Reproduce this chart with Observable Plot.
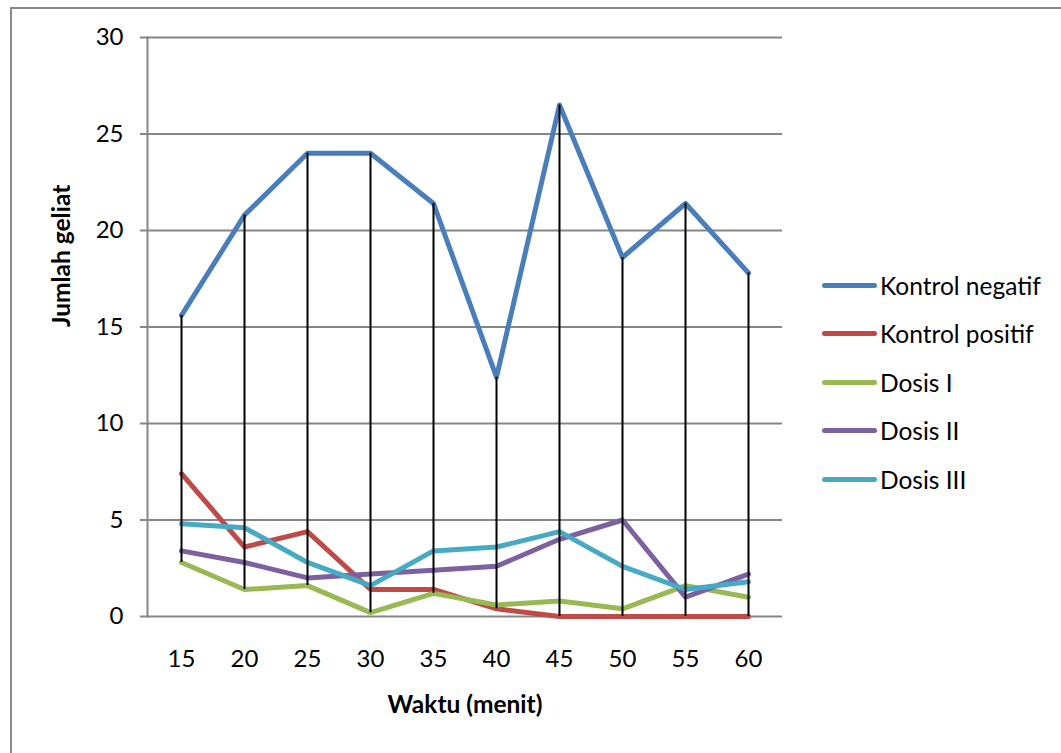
<!DOCTYPE html>
<html>
<head>
<meta charset="utf-8">
<script src="https://cdn.jsdelivr.net/npm/d3@7"></script>
<script src="https://cdn.jsdelivr.net/npm/@observablehq/plot@0.6"></script>
<style>
  html, body { margin: 0; padding: 0; background: #fff; overflow: hidden; }
  #wrap { position: relative; width: 1061px; height: 753px; }
  #frame { position: absolute; left: 10px; top: 7px; width: 1100px; height: 800px;
           border-left: 2px solid #8a8a8a; border-top: 2px solid #8a8a8a; }
  #chart { position: absolute; left: 0; top: 0; }
  #legend { position: absolute; left: 822px; top: 261px; font-family: Lato, "Open Sans", sans-serif;
            font-size: 24.5px; color: #000; }
  .item { display: flex; align-items: center; height: 48.5px; }
  .sw { width: 55px; height: 5px; border-radius: 3px; margin-right: 3px; }
</style>
</head>
<body>
<div id="wrap">
  <div id="frame"></div>
  <div id="chart"></div>
  <div id="legend"></div>
</div>
<script>
const times = [15, 20, 25, 30, 35, 40, 45, 50, 55, 60];
const seriesNames = ["Kontrol negatif", "Kontrol positif", "Dosis I", "Dosis II", "Dosis III"];
const seriesColors = ["#4a7ebb", "#be4b48", "#98b954", "#7d60a0", "#46aac5"];
const kontrolNegatif = [15.6, 20.8, 24.0, 24.0, 21.4, 12.4, 26.5, 18.6, 21.4, 17.8];
const kontrolPositif = [7.4, 3.6, 4.4, 1.4, 1.4, 0.4, 0, 0, 0, 0];
const dosisI = [2.8, 1.4, 1.6, 0.2, 1.2, 0.6, 0.8, 0.4, 1.6, 1.0];
const dosisII = [3.4, 2.8, 2.0, 2.2, 2.4, 2.6, 4.0, 5.0, 1.0, 2.2];
const dosisIII = [4.8, 4.6, 2.8, 1.6, 3.4, 3.6, 4.4, 2.6, 1.4, 1.8];
const yTicks = [0, 5, 10, 15, 20, 25, 30];

const allSeries = [kontrolNegatif, kontrolPositif, dosisI, dosisII, dosisIII];
const tidy = [];
allSeries.forEach((vals, si) => vals.forEach((v, i) => tidy.push({series: seriesNames[si], t: times[i], v})));
const hiLo = times.map((t, i) => {
  const vs = allSeries.map(s => s[i]);
  return {t, lo: Math.min(...vs), hi: Math.max(...vs)};
});

const W = 1061, H = 753;
const chart = Plot.plot({
  width: W, height: H,
  marginLeft: 147, marginRight: W - 782, marginTop: 37, marginBottom: H - 616,
  style: {fontFamily: "Lato, 'Open Sans', sans-serif", fontSize: "24px", color: "#000", background: "transparent"},
  x: {type: "point", domain: times, padding: 0.5},
  y: {domain: [0, 30]},
  color: {domain: seriesNames, range: seriesColors},
  marks: [
    Plot.gridY(yTicks, {stroke: "#868686", strokeOpacity: 1, strokeWidth: 2}),
    Plot.frame({anchor: "left", stroke: "#868686", strokeWidth: 2}),
    Plot.axisY(yTicks, {tickSize: 7, tickPadding: 17, stroke: "#868686", strokeWidth: 2, label: null, fontSize: 24, tickFormat: d => String(d)}),
    Plot.axisX(times, {tickSize: 0, tickPadding: 33, label: null, fontSize: 24}),
    Plot.line(tidy, {x: "t", y: "v", z: "series", stroke: "series", strokeWidth: 5, strokeLinecap: "round", strokeLinejoin: "round"}),
    Plot.ruleX(hiLo, {x: "t", y1: "lo", y2: "hi", stroke: "#000", strokeWidth: 2}),
    Plot.text(["Jumlah geliat"], {frameAnchor: "left", dx: -85, rotate: -90, fontWeight: "bold", fontSize: 24.5}),
    Plot.text(["Waktu (menit)"], {frameAnchor: "bottom", dy: 96, fontWeight: "bold", fontSize: 24.5})
  ]
});
document.getElementById("chart").appendChild(chart);

const legend = document.getElementById("legend");
seriesNames.forEach((n, i) => {
  const it = document.createElement("div");
  it.className = "item";
  const sw = document.createElement("div");
  sw.className = "sw";
  sw.style.background = seriesColors[i];
  const tx = document.createElement("span");
  tx.textContent = n;
  it.appendChild(sw); it.appendChild(tx);
  legend.appendChild(it);
});
</script>
</body>
</html>
